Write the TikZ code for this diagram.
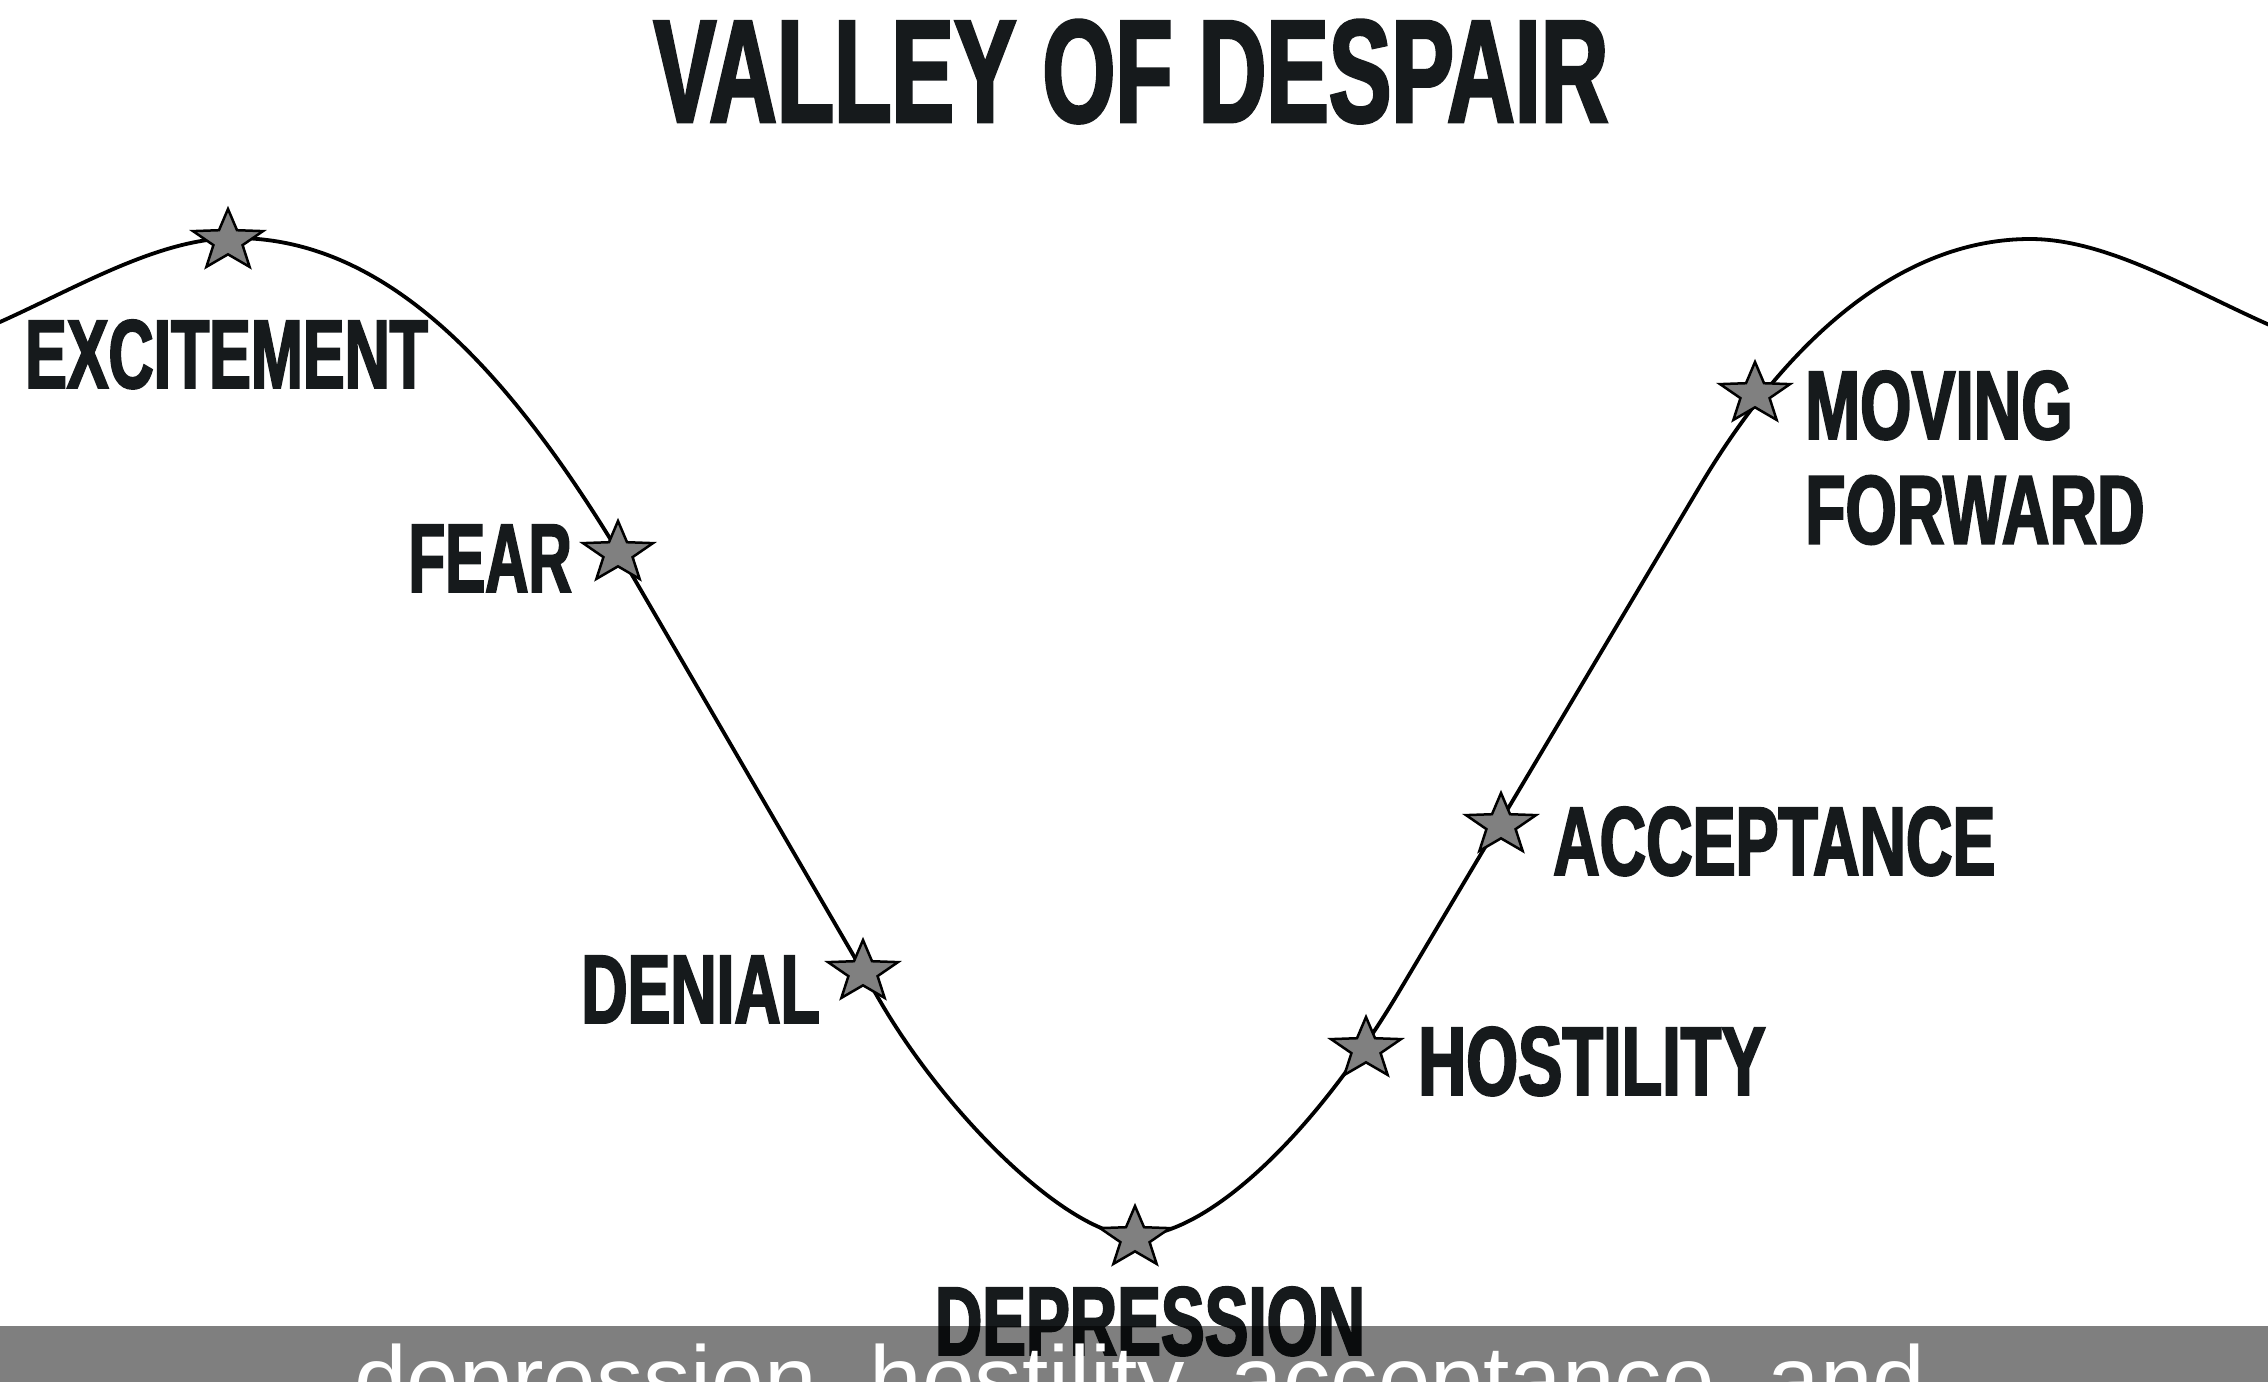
\documentclass[tikz,border=0pt]{standalone}
\usepackage{fontspec}
\usetikzlibrary{shapes.geometric}
\newfontfamily\condfont[FakeStretch=0.64,FakeBold=2]{Liberation Sans}
\newfontfamily\capfont{Liberation Sans}
\definecolor{ink}{RGB}{22,26,28}
\definecolor{stargray}{RGB}{128,128,128}
\begin{document}
\begin{tikzpicture}[x=1bp,y=-1bp,
  lbl/.style={font=\condfont\bfseries\fontsize{98}{105}\selectfont, text=ink, inner sep=0pt},
  ttl/.style={font=\condfont\bfseries\fontsize{147}{150}\selectfont, text=ink, inner sep=0pt},
  stardot/.style={star, star points=5, star point ratio=2.4, minimum size=64bp, inner sep=0pt, xscale=1.15, fill=stargray, draw=black, line width=2.5bp},
  curve/.style={line width=3.8bp, draw=black, line join=round},
]
\useasboundingbox (0,0) rectangle (2268,1382);
\clip (0,0) rectangle (2268,1382);
\fill[white] (0,0) rectangle (2268,1382);

\node[ttl, anchor=base] (title) at (1131,122) {VALLEY OF DESPAIR};

\draw[curve] (-40,340) -- (0,322) .. controls (80,286) and (160,238) .. (235,238)
  .. controls (390,238) and (515,375) .. (635,580)
  -- (880,1001)
  .. controls (948.5,1118.5) and (1070,1236) .. (1135,1236)
  .. controls (1206,1236) and (1312,1138) .. (1400,990)
  -- (1700,486)
  .. controls (1795.5,325.5) and (1911,239) .. (2030,239)
  .. controls (2105,239) and (2185,287) .. (2265,323)
  -- (2310,343);

\node[stardot] (s1) at (228,241) {};
\node[stardot] (s2) at (618,553) {};
\node[stardot] (s3) at (863,972) {};
\node[stardot] (s4) at (1135,1238) {};
\node[stardot] (s5) at (1366,1049) {};
\node[stardot] (s6) at (1501,825) {};
\node[stardot] (s7) at (1755,394) {};

\node[lbl, anchor=base west] (exc) at (25,388) {EXCITEMENT};
\node[lbl, anchor=base east, xscale=0.96] (fear) at (572,592) {FEAR};
\node[lbl, anchor=base east, xscale=1.025] (den) at (820,1023) {DENIAL};
\node[lbl, anchor=base, xscale=1.05] (dep) at (1150,1355) {DEPRESSION};
\node[lbl, anchor=base west, xscale=1.065] (hos) at (1418,1095) {HOSTILITY};
\node[lbl, anchor=base west, xscale=1.03] (acc) at (1553,875) {ACCEPTANCE};
\node[lbl, anchor=base west, xscale=1.055] (mov) at (1805,439) {\begin{tabular}[t]{@{}l@{}}MOVING\\FORWARD\end{tabular}};

\fill[black, opacity=0.5] (0,1326) rectangle (2268,1382);
\node[font=\capfont\fontsize{95}{100}\selectfont, text=white, inner sep=0pt, anchor=base west] (cap) at (354,1412) {depression, hostility, acceptance, and};
\end{tikzpicture}
\end{document}
